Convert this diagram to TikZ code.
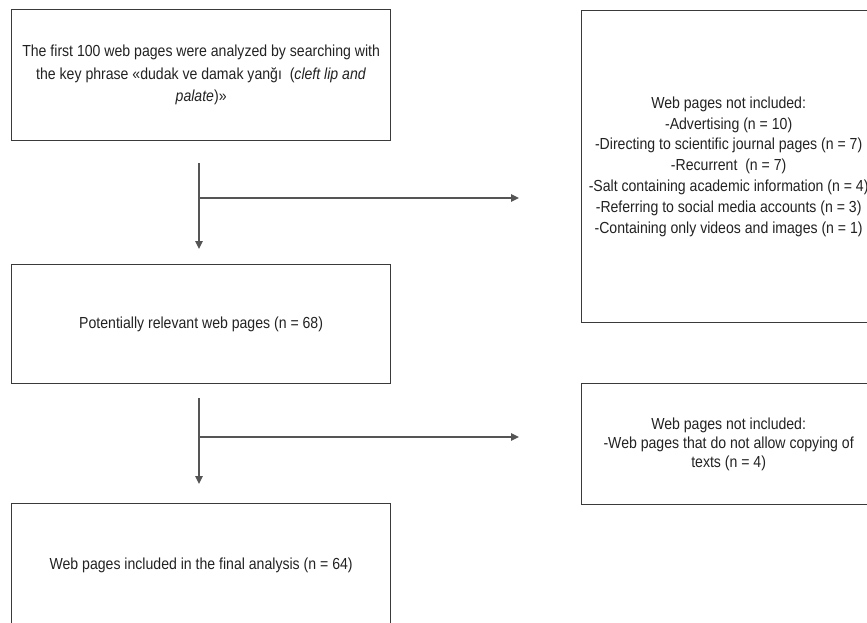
\documentclass[tikz,border=0pt]{standalone}
\usepackage{fontspec}
\setmainfont{Liberation Sans}[FakeStretch=0.88]
\usetikzlibrary{arrows.meta}
\definecolor{boxline}{HTML}{3A3A3A}
\definecolor{arrline}{HTML}{555555}
\definecolor{txt}{HTML}{222222}
\begin{document}
\begin{tikzpicture}[x=1pt,y=-1pt,
  box/.style={draw=boxline, line width=1.3pt, anchor=north west, inner sep=0pt,
    align=center, text=txt, font=\fontsize{16}{21}\selectfont},
  arr/.style={draw=arrline, line width=1.3pt, -{Triangle[length=8pt,width=7.5pt]}},
  seg/.style={draw=arrline, line width=1.3pt}]
\useasboundingbox (0,0) rectangle (867,622);
\node[box, minimum width=379pt, minimum height=131pt, font=\fontsize{16}{22.5}\selectfont] (b1) at (11,9)
  {The first 100 web pages were analyzed by searching with\\
   the key phrase «dudak ve damak yanğı\ \ (\textit{cleft lip and}\\
   \textit{palate})»};
\node[box, minimum width=379pt, minimum height=119pt] (b2) at (11,264)
  {Potentially relevant web pages (n = 68)};
\node[box, minimum width=379pt, minimum height=124pt] (b3) at (11,503)
  {Web pages included in the final analysis (n = 64)};
\node[box, minimum width=294pt, minimum height=312pt, font=\fontsize{16}{20.8}\selectfont] (r1) at (581,10)
  {Web pages not included:\\
   -Advertising (n = 10)\\
   -Directing to scientific journal pages (n = 7)\\
   -Recurrent\ \ (n = 7)\\
   -Salt containing academic information (n = 4)\\
   -Referring to social media accounts (n = 3)\\
   -Containing only videos and images (n = 1)};
\node[box, minimum width=294pt, minimum height=121pt, font=\fontsize{16}{19}\selectfont] (r2) at (581,383)
  {Web pages not included:\\
   -Web pages that do not allow copying of\\
   texts (n = 4)};
\coordinate (s1) at (199,163);
\coordinate (e1) at (199,249);
\coordinate (j1) at (199,198);
\coordinate (h1) at (519,198);
\coordinate (s2) at (199,398);
\coordinate (e2) at (199,484);
\coordinate (j2) at (199,437);
\coordinate (h2) at (519,437);
\draw[arr] (s1) -- (e1);
\draw[arr] (j1) -- (h1);
\draw[arr] (s2) -- (e2);
\draw[arr] (j2) -- (h2);
\end{tikzpicture}
\end{document}
